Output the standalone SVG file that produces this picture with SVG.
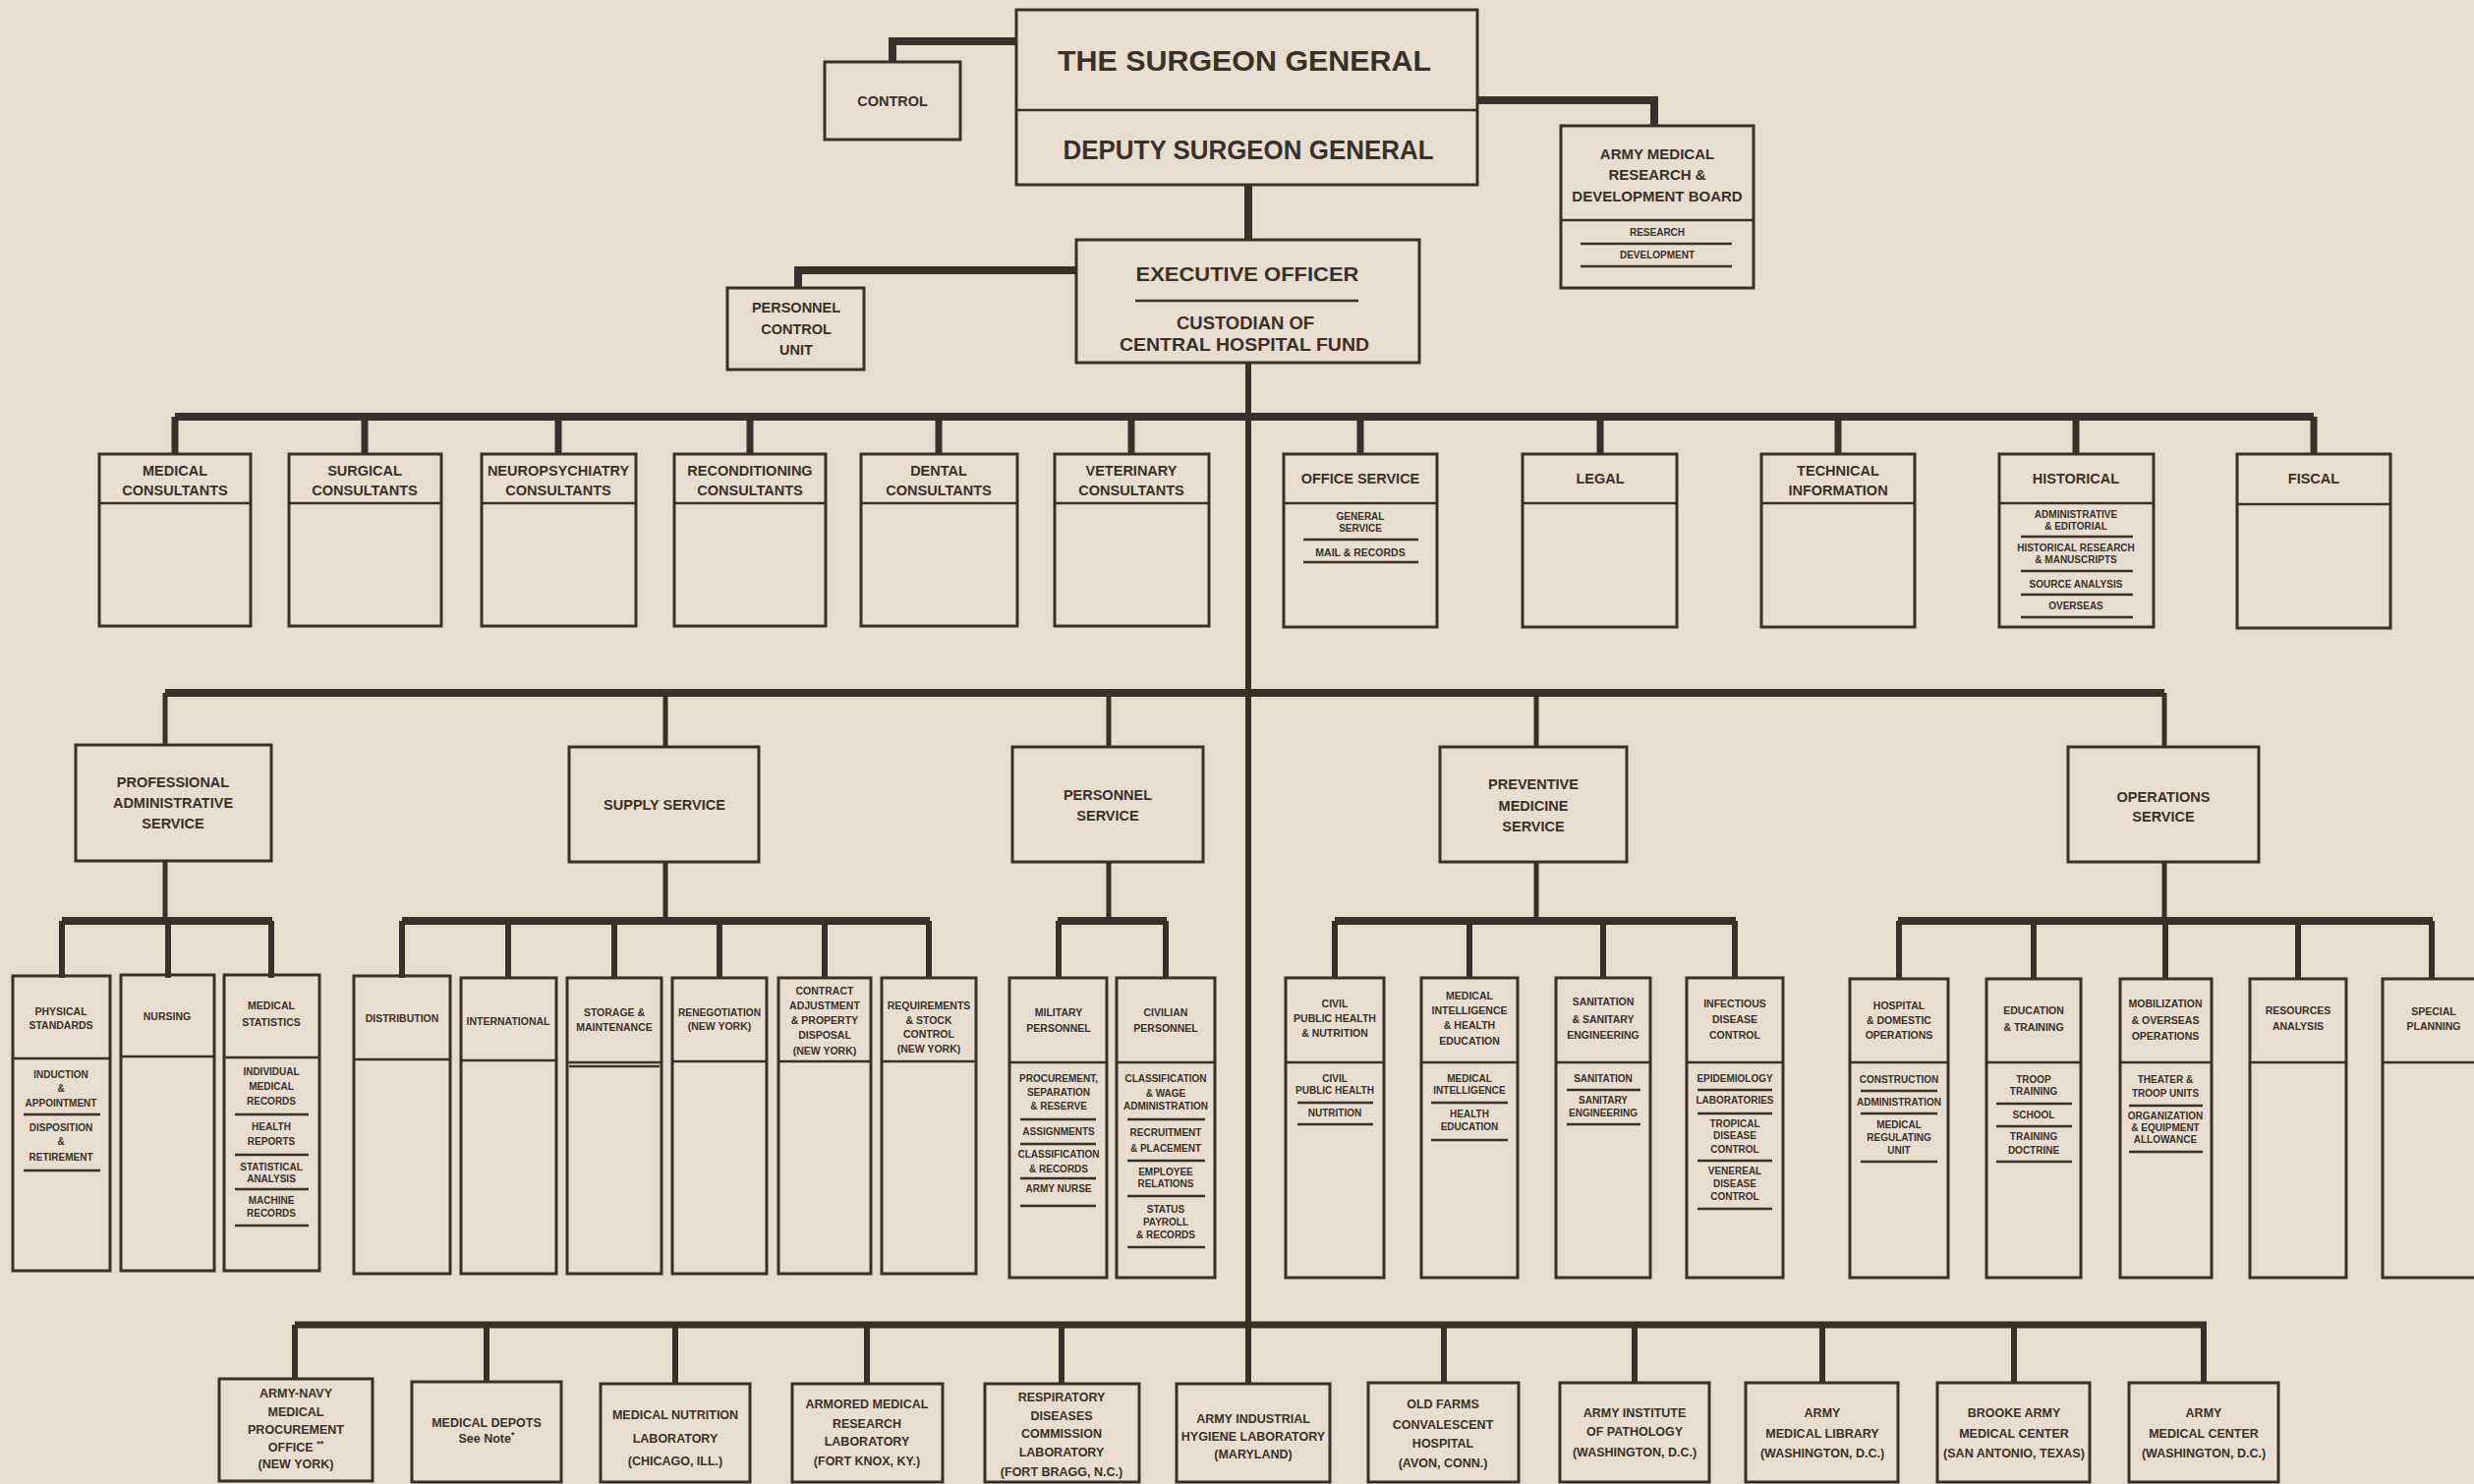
<svg xmlns="http://www.w3.org/2000/svg" width="2517" height="1510" viewBox="0 0 2517 1510">
<style>
.bx{fill:none;stroke:#3a302a;stroke-width:3}
.sep{stroke:#3a302a;stroke-width:2.5}
.ln{stroke:#3a302a;fill:none;stroke-linecap:butt}
.w8{stroke-width:8}.w7{stroke-width:7}.w6{stroke-width:6}.w5{stroke-width:5}
text{font-family:"Liberation Sans",Arial,sans-serif;font-weight:bold;fill:#3a302a;text-anchor:middle}
.f30{font-size:30px}.f27{font-size:27px}.f20{font-size:20px}.f19{font-size:19px}
.f15{font-size:15px}.f14{font-size:14.5px}.f12{font-size:12.5px}.f11{font-size:10.5px}.f10{font-size:10px}
</style>
<rect x="0" y="0" width="2517" height="1510" fill="#e8ddce"/>

<g id="connectors" class="ln">
<path class="w8" d="M1034,42 H908 V63"/>
<path class="w8" d="M1503,102 H1683 V128"/>
<path class="w8" d="M1270,188 V244"/>
<path class="w8" d="M1095,275 H812 V293"/>
<path class="w6" d="M1270,369 V1348"/>
<path class="w8" d="M178,424 H2354"/>
<path class="w7" d="M178,424 V462 M371,424 V462 M568,424 V462 M763,424 V462 M955,424 V462 M1151,424 V462 M1384,424 V462 M1628,424 V462 M1870,424 V462 M2112,424 V462 M2354,424 V462"/>
<path class="w8" d="M168,705 H2202"/>
<path class="w5" d="M168,705 V758 M677,705 V760 M1128,705 V760 M1563,705 V760 M2202,705 V760"/>
<path class="w5" d="M168,876 V937 M677,877 V937 M1128,877 V937 M1563,877 V937 M2202,877 V937"/>
<path class="w8" d="M63,937 H277 M409,937 H946 M1076,937 H1187 M1358,937 H1766 M1931,937 H2475"/>
<path class="w6" d="M63,937 V995 M171,937 V995 M276,937 V995 M409,937 V995 M517,937 V995 M625,937 V995 M732,937 V995 M839,937 V995 M945,937 V995 M1077,937 V995 M1186,937 V995 M1358,937 V995 M1495,937 V995 M1631,937 V995 M1765,937 V995 M1932,937 V995 M2069,937 V995 M2203,937 V995 M2338,937 V995 M2474,937 V995"/>
<path class="w7" d="M300,1348 H2245"/>
<path class="w6" d="M300,1348 V1404 M495,1348 V1406 M687,1348 V1408 M882,1348 V1408 M1080,1348 V1408 M1270,1348 V1408 M1469,1348 V1407 M1663,1348 V1407 M1854,1348 V1407 M2049,1348 V1407 M2242,1348 V1407"/>
</g>

<g id="surgeon-general">
<rect class="bx" x="1034" y="10" width="469" height="178"/>
<line class="sep" x1="1034" y1="112" x2="1503" y2="112"/>
<text class="f30" x="1266" y="72" textLength="380" lengthAdjust="spacingAndGlyphs">THE SURGEON GENERAL</text>
<text class="f27" x="1270" y="162" textLength="377" lengthAdjust="spacingAndGlyphs">DEPUTY  SURGEON  GENERAL</text>
</g>
<g id="control">
<rect class="bx" x="839" y="63" width="138" height="79"/>
<text class="f14" x="908" y="108">CONTROL</text>
</g>
<g id="rd-board">
<rect class="bx" x="1588" y="128" width="196" height="165"/>
<line class="sep" x1="1588" y1="224" x2="1784" y2="224"/>
<text class="f15" x="1686" y="162">ARMY MEDICAL</text>
<text class="f15" x="1686" y="183">RESEARCH &amp;</text>
<text class="f15" x="1686" y="205">DEVELOPMENT BOARD</text>
<text class="f10" x="1686" y="240">RESEARCH</text>
<line class="sep" x1="1608" y1="248" x2="1762" y2="248"/>
<text class="f10" x="1686" y="263">DEVELOPMENT</text>
<line class="sep" x1="1608" y1="271" x2="1762" y2="271"/>
</g>
<g id="executive-officer">
<rect class="bx" x="1095" y="244" width="349" height="125"/>
<text class="f20" x="1269" y="286" textLength="227" lengthAdjust="spacingAndGlyphs">EXECUTIVE OFFICER</text>
<line class="sep" x1="1155" y1="306" x2="1382" y2="306"/>
<text class="f19" x="1267" y="335" textLength="140" lengthAdjust="spacingAndGlyphs">CUSTODIAN OF</text>
<text class="f19" x="1266" y="357" textLength="254" lengthAdjust="spacingAndGlyphs">CENTRAL HOSPITAL FUND</text>
</g>
<g id="personnel-control-unit">
<rect class="bx" x="740" y="293" width="139" height="83"/>
<text class="f14" x="810" y="318">PERSONNEL</text>
<text class="f14" x="810" y="340">CONTROL</text>
<text class="f14" x="810" y="361">UNIT</text>
</g>

<g id="medical-consultants"><rect class="bx" x="101" y="462" width="154" height="175"/><line class="sep" x1="101" y1="512" x2="255" y2="512"/>
<text class="f14" x="178" y="484">MEDICAL</text><text class="f14" x="178" y="504">CONSULTANTS</text></g>
<g id="surgical-consultants"><rect class="bx" x="294" y="462" width="155" height="175"/><line class="sep" x1="294" y1="512" x2="449" y2="512"/>
<text class="f14" x="371" y="484">SURGICAL</text><text class="f14" x="371" y="504">CONSULTANTS</text></g>
<g id="neuropsychiatry-consultants"><rect class="bx" x="490" y="462" width="157" height="175"/><line class="sep" x1="490" y1="512" x2="647" y2="512"/>
<text class="f14" x="568" y="484">NEUROPSYCHIATRY</text><text class="f14" x="568" y="504">CONSULTANTS</text></g>
<g id="reconditioning-consultants"><rect class="bx" x="686" y="462" width="154" height="175"/><line class="sep" x1="686" y1="512" x2="840" y2="512"/>
<text class="f14" x="763" y="484">RECONDITIONING</text><text class="f14" x="763" y="504">CONSULTANTS</text></g>
<g id="dental-consultants"><rect class="bx" x="876" y="462" width="159" height="175"/><line class="sep" x1="876" y1="512" x2="1035" y2="512"/>
<text class="f14" x="955" y="484">DENTAL</text><text class="f14" x="955" y="504">CONSULTANTS</text></g>
<g id="veterinary-consultants"><rect class="bx" x="1073" y="462" width="157" height="175"/><line class="sep" x1="1073" y1="512" x2="1230" y2="512"/>
<text class="f14" x="1151" y="484">VETERINARY</text><text class="f14" x="1151" y="504">CONSULTANTS</text></g>
<g id="office-service"><rect class="bx" x="1306" y="462" width="156" height="176"/><line class="sep" x1="1306" y1="512" x2="1462" y2="512"/>
<text class="f14" x="1384" y="492">OFFICE SERVICE</text>
<text class="f10" x="1384" y="529">GENERAL</text><text class="f10" x="1384" y="541">SERVICE</text>
<line class="sep" x1="1326" y1="549" x2="1443" y2="549"/>
<text class="f11" x="1384" y="566">MAIL &amp; RECORDS</text>
<line class="sep" x1="1326" y1="572" x2="1443" y2="572"/></g>
<g id="legal"><rect class="bx" x="1549" y="462" width="157" height="176"/><line class="sep" x1="1549" y1="512" x2="1706" y2="512"/>
<text class="f14" x="1628" y="492">LEGAL</text></g>
<g id="technical-information"><rect class="bx" x="1792" y="462" width="156" height="176"/><line class="sep" x1="1792" y1="512" x2="1948" y2="512"/>
<text class="f14" x="1870" y="484">TECHNICAL</text><text class="f14" x="1870" y="504">INFORMATION</text></g>
<g id="historical"><rect class="bx" x="2034" y="462" width="157" height="176"/><line class="sep" x1="2034" y1="512" x2="2191" y2="512"/>
<text class="f14" x="2112" y="492">HISTORICAL</text>
<text class="f10" x="2112" y="527">ADMINISTRATIVE</text><text class="f10" x="2112" y="539">&amp; EDITORIAL</text>
<line class="sep" x1="2056" y1="546" x2="2170" y2="546"/>
<text class="f10" x="2112" y="561">HISTORICAL RESEARCH</text><text class="f10" x="2112" y="573">&amp; MANUSCRIPTS</text>
<line class="sep" x1="2056" y1="581" x2="2170" y2="581"/>
<text class="f10" x="2112" y="598">SOURCE ANALYSIS</text>
<line class="sep" x1="2056" y1="605" x2="2170" y2="605"/>
<text class="f10" x="2112" y="620">OVERSEAS</text>
<line class="sep" x1="2056" y1="628" x2="2170" y2="628"/></g>
<g id="fiscal"><rect class="bx" x="2276" y="462" width="156" height="177"/><line class="sep" x1="2276" y1="513" x2="2432" y2="513"/>
<text class="f14" x="2354" y="492">FISCAL</text></g>

<g id="professional-administrative-service"><rect class="bx" x="77" y="758" width="199" height="118"/>
<text class="f14" x="176" y="801">PROFESSIONAL</text><text class="f14" x="176" y="822">ADMINISTRATIVE</text><text class="f14" x="176" y="843">SERVICE</text></g>
<g id="supply-service"><rect class="bx" x="579" y="760" width="193" height="117"/>
<text class="f14" x="676" y="824">SUPPLY  SERVICE</text></g>
<g id="personnel-service"><rect class="bx" x="1030" y="760" width="194" height="117"/>
<text class="f14" x="1127" y="814">PERSONNEL</text><text class="f14" x="1127" y="835">SERVICE</text></g>
<g id="preventive-medicine-service"><rect class="bx" x="1465" y="760" width="190" height="117"/>
<text class="f14" x="1560" y="803">PREVENTIVE</text><text class="f14" x="1560" y="825">MEDICINE</text><text class="f14" x="1560" y="846">SERVICE</text></g>
<g id="operations-service"><rect class="bx" x="2104" y="760" width="194" height="117"/>
<text class="f14" x="2201" y="816">OPERATIONS</text><text class="f14" x="2201" y="836">SERVICE</text></g>

<g id="physical-standards"><rect class="bx" x="13" y="993" width="99" height="300"/><line class="sep" x1="13" y1="1077" x2="112" y2="1077"/>
<text class="f11" x="62" y="1033">PHYSICAL</text><text class="f11" x="62" y="1047">STANDARDS</text>
<text class="f10" x="62" y="1097">INDUCTION</text><text class="f10" x="62" y="1111">&amp;</text><text class="f10" x="62" y="1126">APPOINTMENT</text>
<line class="sep" x1="24" y1="1134" x2="102" y2="1134"/>
<text class="f10" x="62" y="1151">DISPOSITION</text><text class="f10" x="62" y="1165">&amp;</text><text class="f10" x="62" y="1181">RETIREMENT</text>
<line class="sep" x1="24" y1="1191" x2="102" y2="1191"/></g>
<g id="nursing"><rect class="bx" x="123" y="992" width="95" height="301"/><line class="sep" x1="123" y1="1075" x2="218" y2="1075"/>
<text class="f11" x="170" y="1038">NURSING</text></g>
<g id="medical-statistics"><rect class="bx" x="228" y="992" width="97" height="301"/><line class="sep" x1="228" y1="1076" x2="325" y2="1076"/>
<text class="f11" x="276" y="1027">MEDICAL</text><text class="f11" x="276" y="1044">STATISTICS</text>
<text class="f10" x="276" y="1094">INDIVIDUAL</text><text class="f10" x="276" y="1109">MEDICAL</text><text class="f10" x="276" y="1124">RECORDS</text>
<line class="sep" x1="239" y1="1134" x2="314" y2="1134"/>
<text class="f10" x="276" y="1150">HEALTH</text><text class="f10" x="276" y="1165">REPORTS</text>
<line class="sep" x1="239" y1="1175" x2="314" y2="1175"/>
<text class="f10" x="276" y="1191">STATISTICAL</text><text class="f10" x="276" y="1203">ANALYSIS</text>
<line class="sep" x1="239" y1="1210" x2="314" y2="1210"/>
<text class="f10" x="276" y="1225">MACHINE</text><text class="f10" x="276" y="1238">RECORDS</text>
<line class="sep" x1="239" y1="1247" x2="314" y2="1247"/></g>

<g id="distribution"><rect class="bx" x="360" y="993" width="98" height="303"/><line class="sep" x1="360" y1="1078" x2="458" y2="1078"/>
<text class="f11" x="409" y="1040">DISTRIBUTION</text></g>
<g id="international"><rect class="bx" x="469" y="995" width="97" height="301"/><line class="sep" x1="469" y1="1079" x2="566" y2="1079"/>
<text class="f11" x="517" y="1043">INTERNATIONAL</text></g>
<g id="storage-maintenance"><rect class="bx" x="577" y="995" width="96" height="301"/><line class="sep" x1="577" y1="1081" x2="673" y2="1081"/><line class="sep" x1="579" y1="1085" x2="671" y2="1085"/>
<text class="f11" x="625" y="1034">STORAGE &amp;</text><text class="f11" x="625" y="1049">MAINTENANCE</text></g>
<g id="renegotiation"><rect class="bx" x="684" y="995" width="96" height="301"/><line class="sep" x1="684" y1="1080" x2="780" y2="1080"/>
<text class="f11" x="732" y="1034" textLength="84" lengthAdjust="spacingAndGlyphs">RENEGOTIATION</text><text class="f11" x="732" y="1048">(NEW YORK)</text></g>
<g id="contract-adjustment"><rect class="bx" x="792" y="995" width="94" height="301"/><line class="sep" x1="792" y1="1080" x2="886" y2="1080"/>
<text class="f11" x="839" y="1012">CONTRACT</text><text class="f11" x="839" y="1027">ADJUSTMENT</text><text class="f11" x="839" y="1042">&amp; PROPERTY</text><text class="f11" x="839" y="1057">DISPOSAL</text><text class="f11" x="839" y="1073">(NEW YORK)</text></g>
<g id="requirements-stock-control"><rect class="bx" x="897" y="995" width="96" height="301"/><line class="sep" x1="897" y1="1080" x2="993" y2="1080"/>
<text class="f11" x="945" y="1027">REQUIREMENTS</text><text class="f11" x="945" y="1042">&amp; STOCK</text><text class="f11" x="945" y="1056">CONTROL</text><text class="f11" x="945" y="1071">(NEW YORK)</text></g>

<g id="military-personnel"><rect class="bx" x="1027" y="995" width="99" height="305"/><line class="sep" x1="1027" y1="1081" x2="1126" y2="1081"/>
<text class="f11" x="1077" y="1034">MILITARY</text><text class="f11" x="1077" y="1050">PERSONNEL</text>
<text class="f10" x="1077" y="1101">PROCUREMENT,</text><text class="f10" x="1077" y="1115">SEPARATION</text><text class="f10" x="1077" y="1129">&amp; RESERVE</text>
<line class="sep" x1="1038" y1="1139" x2="1115" y2="1139"/>
<text class="f10" x="1077" y="1155">ASSIGNMENTS</text>
<line class="sep" x1="1038" y1="1164" x2="1115" y2="1164"/>
<text class="f10" x="1077" y="1178">CLASSIFICATION</text><text class="f10" x="1077" y="1193">&amp; RECORDS</text>
<line class="sep" x1="1038" y1="1199" x2="1115" y2="1199"/>
<text class="f10" x="1077" y="1213">ARMY NURSE</text>
<line class="sep" x1="1038" y1="1227" x2="1115" y2="1227"/></g>
<g id="civilian-personnel"><rect class="bx" x="1136" y="995" width="100" height="305"/><line class="sep" x1="1136" y1="1081" x2="1236" y2="1081"/>
<text class="f11" x="1186" y="1034">CIVILIAN</text><text class="f11" x="1186" y="1050">PERSONNEL</text>
<text class="f10" x="1186" y="1101">CLASSIFICATION</text><text class="f10" x="1186" y="1116">&amp; WAGE</text><text class="f10" x="1186" y="1129">ADMINISTRATION</text>
<line class="sep" x1="1147" y1="1139" x2="1226" y2="1139"/>
<text class="f10" x="1186" y="1156">RECRUITMENT</text><text class="f10" x="1186" y="1172">&amp; PLACEMENT</text>
<line class="sep" x1="1147" y1="1181" x2="1226" y2="1181"/>
<text class="f10" x="1186" y="1196">EMPLOYEE</text><text class="f10" x="1186" y="1208">RELATIONS</text>
<line class="sep" x1="1147" y1="1217" x2="1226" y2="1217"/>
<text class="f10" x="1186" y="1234">STATUS</text><text class="f10" x="1186" y="1247">PAYROLL</text><text class="f10" x="1186" y="1260">&amp; RECORDS</text>
<line class="sep" x1="1147" y1="1269" x2="1226" y2="1269"/></g>

<g id="civil-public-health"><rect class="bx" x="1308" y="995" width="100" height="305"/><line class="sep" x1="1308" y1="1081" x2="1408" y2="1081"/>
<text class="f11" x="1358" y="1025">CIVIL</text><text class="f11" x="1358" y="1040">PUBLIC HEALTH</text><text class="f11" x="1358" y="1055">&amp; NUTRITION</text>
<text class="f10" x="1358" y="1101">CIVIL</text><text class="f10" x="1358" y="1113">PUBLIC HEALTH</text>
<line class="sep" x1="1320" y1="1122" x2="1397" y2="1122"/>
<text class="f10" x="1358" y="1136">NUTRITION</text>
<line class="sep" x1="1320" y1="1144" x2="1397" y2="1144"/></g>
<g id="medical-intelligence"><rect class="bx" x="1446" y="995" width="98" height="305"/><line class="sep" x1="1446" y1="1081" x2="1544" y2="1081"/>
<text class="f11" x="1495" y="1017">MEDICAL</text><text class="f11" x="1495" y="1032">INTELLIGENCE</text><text class="f11" x="1495" y="1047">&amp; HEALTH</text><text class="f11" x="1495" y="1063">EDUCATION</text>
<text class="f10" x="1495" y="1101">MEDICAL</text><text class="f10" x="1495" y="1113">INTELLIGENCE</text>
<line class="sep" x1="1456" y1="1122" x2="1534" y2="1122"/>
<text class="f10" x="1495" y="1137">HEALTH</text><text class="f10" x="1495" y="1150">EDUCATION</text>
<line class="sep" x1="1456" y1="1160" x2="1534" y2="1160"/></g>
<g id="sanitation"><rect class="bx" x="1583" y="995" width="96" height="305"/><line class="sep" x1="1583" y1="1081" x2="1679" y2="1081"/>
<text class="f11" x="1631" y="1023">SANITATION</text><text class="f11" x="1631" y="1041">&amp; SANITARY</text><text class="f11" x="1631" y="1057">ENGINEERING</text>
<text class="f10" x="1631" y="1101">SANITATION</text>
<line class="sep" x1="1594" y1="1109" x2="1669" y2="1109"/>
<text class="f10" x="1631" y="1123">SANITARY</text><text class="f10" x="1631" y="1136">ENGINEERING</text>
<line class="sep" x1="1594" y1="1144" x2="1669" y2="1144"/></g>
<g id="infectious-disease-control"><rect class="bx" x="1716" y="995" width="98" height="305"/><line class="sep" x1="1716" y1="1081" x2="1814" y2="1081"/>
<text class="f11" x="1765" y="1025">INFECTIOUS</text><text class="f11" x="1765" y="1041">DISEASE</text><text class="f11" x="1765" y="1057">CONTROL</text>
<text class="f10" x="1765" y="1101">EPIDEMIOLOGY</text>
<line class="sep" x1="1727" y1="1109" x2="1803" y2="1109"/>
<text class="f10" x="1765" y="1123">LABORATORIES</text>
<line class="sep" x1="1727" y1="1133" x2="1803" y2="1133"/>
<text class="f10" x="1765" y="1147">TROPICAL</text><text class="f10" x="1765" y="1159">DISEASE</text><text class="f10" x="1765" y="1173">CONTROL</text>
<line class="sep" x1="1727" y1="1181" x2="1803" y2="1181"/>
<text class="f10" x="1765" y="1195">VENEREAL</text><text class="f10" x="1765" y="1208">DISEASE</text><text class="f10" x="1765" y="1221">CONTROL</text>
<line class="sep" x1="1727" y1="1230" x2="1803" y2="1230"/></g>

<g id="hospital-domestic-operations"><rect class="bx" x="1882" y="996" width="100" height="304"/><line class="sep" x1="1882" y1="1081" x2="1982" y2="1081"/>
<text class="f11" x="1932" y="1027">HOSPITAL</text><text class="f11" x="1932" y="1042">&amp; DOMESTIC</text><text class="f11" x="1932" y="1057">OPERATIONS</text>
<text class="f10" x="1932" y="1102">CONSTRUCTION</text>
<line class="sep" x1="1893" y1="1110" x2="1971" y2="1110"/>
<text class="f10" x="1932" y="1125">ADMINISTRATION</text>
<line class="sep" x1="1893" y1="1133" x2="1971" y2="1133"/>
<text class="f10" x="1932" y="1148">MEDICAL</text><text class="f10" x="1932" y="1161">REGULATING</text><text class="f10" x="1932" y="1174">UNIT</text>
<line class="sep" x1="1893" y1="1182" x2="1971" y2="1182"/></g>
<g id="education-training"><rect class="bx" x="2021" y="996" width="96" height="304"/><line class="sep" x1="2021" y1="1081" x2="2117" y2="1081"/>
<text class="f11" x="2069" y="1032">EDUCATION</text><text class="f11" x="2069" y="1049">&amp; TRAINING</text>
<text class="f10" x="2069" y="1102">TROOP</text><text class="f10" x="2069" y="1114">TRAINING</text>
<line class="sep" x1="2031" y1="1123" x2="2108" y2="1123"/>
<text class="f10" x="2069" y="1138">SCHOOL</text>
<line class="sep" x1="2031" y1="1146" x2="2108" y2="1146"/>
<text class="f10" x="2069" y="1160">TRAINING</text><text class="f10" x="2069" y="1174">DOCTRINE</text>
<line class="sep" x1="2031" y1="1182" x2="2108" y2="1182"/></g>
<g id="mobilization-overseas-operations"><rect class="bx" x="2157" y="996" width="93" height="304"/><line class="sep" x1="2157" y1="1081" x2="2250" y2="1081"/>
<text class="f11" x="2203" y="1025">MOBILIZATION</text><text class="f11" x="2203" y="1042">&amp; OVERSEAS</text><text class="f11" x="2203" y="1058">OPERATIONS</text>
<text class="f10" x="2203" y="1102">THEATER &amp;</text><text class="f10" x="2203" y="1116">TROOP UNITS</text>
<line class="sep" x1="2166" y1="1125" x2="2241" y2="1125"/>
<text class="f10" x="2203" y="1139">ORGANIZATION</text><text class="f10" x="2203" y="1151">&amp; EQUIPMENT</text><text class="f10" x="2203" y="1163">ALLOWANCE</text>
<line class="sep" x1="2166" y1="1172" x2="2241" y2="1172"/></g>
<g id="resources-analysis"><rect class="bx" x="2289" y="996" width="98" height="304"/><line class="sep" x1="2289" y1="1081" x2="2387" y2="1081"/>
<text class="f11" x="2338" y="1032">RESOURCES</text><text class="f11" x="2338" y="1048">ANALYSIS</text></g>
<g id="special-planning"><rect class="bx" x="2424" y="996" width="110" height="304"/><line class="sep" x1="2424" y1="1081" x2="2534" y2="1081"/>
<text class="f11" x="2476" y="1033">SPECIAL</text><text class="f11" x="2476" y="1048">PLANNING</text></g>

<g id="army-navy-procurement"><rect class="bx" x="223" y="1403" width="156" height="104"/>
<text class="f12" x="301" y="1422">ARMY-NAVY</text><text class="f12" x="301" y="1441">MEDICAL</text><text class="f12" x="301" y="1459">PROCUREMENT</text><text class="f12" x="301" y="1477">OFFICE <tspan font-size="9" dy="-5">**</tspan></text><text class="f12" x="301" y="1494">(NEW YORK)</text></g>
<g id="medical-depots"><rect class="bx" x="419" y="1406" width="152" height="102"/>
<text class="f12" x="495" y="1452">MEDICAL DEPOTS</text><text class="f12" x="495" y="1468">See Note<tspan font-size="9" dy="-5">*</tspan></text></g>
<g id="medical-nutrition-laboratory"><rect class="bx" x="611" y="1408" width="152" height="100"/>
<text class="f12" x="687" y="1444">MEDICAL NUTRITION</text><text class="f12" x="687" y="1468">LABORATORY</text><text class="f12" x="687" y="1491">(CHICAGO, ILL.)</text></g>
<g id="armored-medical-research-laboratory"><rect class="bx" x="806" y="1408" width="153" height="100"/>
<text class="f12" x="882" y="1433">ARMORED MEDICAL</text><text class="f12" x="882" y="1453">RESEARCH</text><text class="f12" x="882" y="1471">LABORATORY</text><text class="f12" x="882" y="1491">(FORT KNOX, KY.)</text></g>
<g id="respiratory-diseases-laboratory"><rect class="bx" x="1002" y="1408" width="157" height="100"/>
<text class="f12" x="1080" y="1426">RESPIRATORY</text><text class="f12" x="1080" y="1445">DISEASES</text><text class="f12" x="1080" y="1463">COMMISSION</text><text class="f12" x="1080" y="1482">LABORATORY</text><text class="f12" x="1080" y="1502">(FORT BRAGG, N.C.)</text></g>
<g id="army-industrial-hygiene-laboratory"><rect class="bx" x="1197" y="1408" width="156" height="100"/>
<text class="f12" x="1275" y="1448">ARMY  INDUSTRIAL</text><text class="f12" x="1275" y="1466">HYGIENE LABORATORY</text><text class="f12" x="1275" y="1484">(MARYLAND)</text></g>
<g id="old-farms-convalescent-hospital"><rect class="bx" x="1392" y="1407" width="153" height="101"/>
<text class="f12" x="1468" y="1433">OLD FARMS</text><text class="f12" x="1468" y="1454">CONVALESCENT</text><text class="f12" x="1468" y="1473">HOSPITAL</text><text class="f12" x="1468" y="1493">(AVON, CONN.)</text></g>
<g id="army-institute-of-pathology"><rect class="bx" x="1587" y="1407" width="152" height="101"/>
<text class="f12" x="1663" y="1442">ARMY INSTITUTE</text><text class="f12" x="1663" y="1461">OF PATHOLOGY</text><text class="f12" x="1663" y="1482">(WASHINGTON, D.C.)</text></g>
<g id="army-medical-library"><rect class="bx" x="1776" y="1407" width="155" height="101"/>
<text class="f12" x="1854" y="1442">ARMY</text><text class="f12" x="1854" y="1463">MEDICAL  LIBRARY</text><text class="f12" x="1854" y="1483">(WASHINGTON, D.C.)</text></g>
<g id="brooke-army-medical-center"><rect class="bx" x="1971" y="1407" width="155" height="101"/>
<text class="f12" x="2049" y="1442">BROOKE ARMY</text><text class="f12" x="2049" y="1463">MEDICAL CENTER</text><text class="f12" x="2049" y="1483">(SAN ANTONIO, TEXAS)</text></g>
<g id="army-medical-center"><rect class="bx" x="2166" y="1407" width="152" height="101"/>
<text class="f12" x="2242" y="1442">ARMY</text><text class="f12" x="2242" y="1463">MEDICAL CENTER</text><text class="f12" x="2242" y="1483">(WASHINGTON, D.C.)</text></g>
</svg>
